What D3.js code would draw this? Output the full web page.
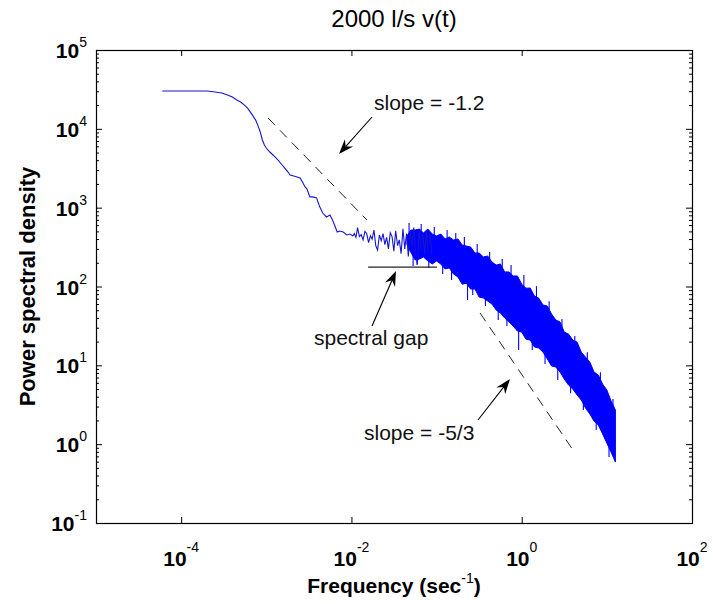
<!DOCTYPE html>
<html><head><meta charset="utf-8">
<script src="https://cdn.jsdelivr.net/npm/d3@7"></script>
<style>body{margin:0;background:#fff;} svg{display:block;font-family:"Liberation Sans",Arial,Helvetica,sans-serif;}</style>
</head><body><svg id="chart" width="713" height="604"></svg>
<script>
// ---- data ----
const freqLine = [6e-5,1e-4,1.5e-4,2e-4,2.5e-4,3e-4,3.5e-4,4e-4,4.5e-4,5e-4,5.5e-4,6e-4,6.5e-4,7e-4,7.5e-4,8e-4,8.5e-4,9e-4,9.5e-4,1e-3,
  1.1e-3,1.2e-3,1.3e-3,1.4e-3,1.5e-3,1.65e-3,1.8e-3,1.9e-3,2.1e-3,2.3e-3,2.5e-3,2.7e-3,2.85e-3,3.0e-3,3.25e-3,3.5e-3,3.9e-3,4.2e-3,4.6e-3,5.1e-3,
  5.6e-3,6.0e-3,6.4e-3,6.8e-3,7.3e-3,8.0e-3,8.8e-3,9.6e-3,1.04e-2,
  0.0108,0.0113,0.0118,0.0124,0.0130,0.0137,0.0144,0.0151,0.0159,0.0167,0.0175,0.0184,0.0193,0.0203,0.0213,0.0224,0.0235,0.0247,0.0259,0.0272,
  0.0286,0.0300,0.0315,0.0331,0.0348,0.0365,0.0383,0.0403,0.0423,0.0444,0.0466,0.0490,0.0514,0.0540,0.0567,0.0595,0.0625,0.0656,0.0689,0.0724,
  0.0760,0.0798,0.0838,0.0880];
const psdLine = [30200,30200,30200,30200,29300,28500,26900,25300,23200,21900,20100,18400,16300,14500,12900,10900,9120,7220,6240,5710,
  5080,4660,4270,3910,3580,3180,2830,2600,2520,2450,2380,2050,1830,1730,1370,1370,1330,1050,855,762,
  807,697,585,491,506,491,450,463,437,
  470,420,560,430,455,390,500,470,360,440,400,520,330,290,450,380,470,340,420,300,
  480,430,280,510,330,390,260,540,300,470,240,510,330,560,270,195,520,300,460,260,
  500,280,470,250];

const bandFreq = [0.045,0.05,0.056,0.063,0.07,0.079,0.089,0.1,0.112,0.126,0.141,0.158,0.178,0.2,0.224,0.251,0.282,0.316,0.355,0.398,
  0.447,0.501,0.562,0.631,0.708,0.794,0.891,1.0,1.12,1.26,1.41,1.58,1.78,2.0,2.24,2.51,2.82,3.16,3.55,3.98,
  4.47,5.01,5.62,6.31,7.08,7.94,8.91,10.0,11.2,12.6];
const bandHigh = [440,520,521,536,477,536,463,437,463,401,425,389,401,336,326,317,266,266,237,244,
  205,187,193,153,153,136,136,107,95.3,95.6,75.7,71.4,58.2,56.5,44.8,37.6,35.5,26.4,24.9,20.9,
  19.7,14.7,12.7,11.0,8.21,7.53,5.79,4.86,3.53,2.71];
const bandLow = [340,270,217,223,237,211,193,211,193,167,172,144,132,107,110,92.9,92.9,73.5,71.4,65.4,
  59.9,50.3,46.1,39.9,35.5,31.5,27.2,26.4,21.5,20.9,17.1,16.6,14.7,12.0,9.81,9.53,8.21,6.70,5.62,5.00,
  4.20,3.63,2.87,2.41,1.96,1.75,1.35,1.03,0.795,0.593];

// individual spikes sticking out of the dense band
const spikeFreq = [0.0475,0.066,0.094,0.133,0.168,0.212,0.30,0.42,0.59,0.75,1.06,1.49,2.1,2.97,4.2,5.9,8.4,11.8,
  0.053,0.059,0.081,0.118,0.15,0.231,0.266,0.375,0.53,0.67,0.92,1.33,1.88,2.65,3.75,5.3,7.5,10.6];
const spikeHigh = [639,621,569,521,477,425,346,274,223,187,140,101,65,38.7,23.5,14.7,8.2,3.74,
  400,420,380,320,260,200,170,120,80,65,50,35,22,14,9,5.5,3.2,1.5];
const spikeLow = [330,320,300,280,250,220,180,140,115,95,72,52,34,20,12,7.5,4.2,1.9,
  182,187,172,144,121,67.3,77.9,56.5,37.6,31.5,15.6,15.6,10.4,6.51,4.42,2.71,1.51,0.686];

const slope1Freq = [1.05e-3,1.52e-2], slope1Psd = [13700,697];
const slope2Freq = [0.324,4.0],      slope2Psd = [46.1,0.843];
const gapFreq = [0.0157,0.101],      gapPsd = [176.6,176.6];

const xTickExps = [-4,-2,0,2];
const yTickExps = [-1,0,1,2,3,4,5];

const titleText = "2000 l/s v(t)";
const xLabelText = "Frequency (sec", xLabelSup = "-1", xLabelEnd = ")";
const yLabelText = "Power spectral density";

// ---- layout ----
const W = 713, H = 604;
const m = {l:96, t:50};
const pw = 596, ph = 473;
const x = d3.scaleLog().domain([1e-5,1e2]).range([m.l, m.l+pw]);
const y = d3.scaleLog().domain([1e-1,1e5]).range([m.t+ph, m.t]);

const svg = d3.select('#chart');
svg.append('rect').attr('width',W).attr('height',H).attr('fill','#fff');
svg.append('defs').append('clipPath').attr('id','clip')
  .append('rect').attr('x',m.l).attr('y',m.t).attr('width',pw).attr('height',ph);

const g = svg.append('g').attr('clip-path','url(#clip)');

// dense band
const band = bandFreq.map((f,i)=>({f, hi:bandHigh[i], lo:bandLow[i]}));
g.append('path').datum(band)
  .attr('d', d3.area().x(d=>x(d.f)).y0(d=>y(d.lo)).y1(d=>y(d.hi)))
  .attr('fill','#0000ff').attr('stroke','#0000ff').attr('stroke-width',1);

// spectrum line
const lineData = freqLine.map((f,i)=>({f, p:psdLine[i]}));
g.append('path').datum(lineData)
  .attr('d', d3.line().x(d=>x(d.f)).y(d=>y(d.p)))
  .attr('fill','none').attr('stroke','#1515d0').attr('stroke-width',1.1);

// spikes
g.selectAll('line.spike').data(spikeFreq).enter().append('line')
  .attr('x1',d=>x(d)).attr('x2',d=>x(d))
  .attr('y1',(d,i)=>y(spikeHigh[i])).attr('y2',(d,i)=>y(spikeLow[i]))
  .attr('stroke','#0000ff').attr('stroke-width',1.1);

// slope lines
const lineGen = d3.line().x(d=>x(d[0])).y(d=>y(d[1]));
g.append('path').datum(slope1Freq.map((f,i)=>[f,slope1Psd[i]]))
  .attr('d',lineGen).attr('stroke','#222').attr('stroke-width',1).attr('stroke-dasharray','10,7').attr('fill','none');
g.append('path').datum(slope2Freq.map((f,i)=>[f,slope2Psd[i]]))
  .attr('d',lineGen).attr('stroke','#222').attr('stroke-width',1).attr('stroke-dasharray','10,7').attr('fill','none');
g.append('path').datum(gapFreq.map((f,i)=>[f,gapPsd[i]]))
  .attr('d',lineGen).attr('stroke','#222').attr('stroke-width',1.3).attr('fill','none');

// ---- axes (ticks inward, box) ----
const yMinor = [];
for (let e=-1;e<5;e++) for (let k=2;k<10;k++) yMinor.push(k*Math.pow(10,e));
const xMaj = xTickExps.map(e=>Math.pow(10,e));
const yMaj = yTickExps.map(e=>Math.pow(10,e));

function styleAxis(sel){ sel.select('.domain').remove(); sel.selectAll('line').attr('stroke','#000'); sel.selectAll('text').remove(); }
svg.append('g').attr('transform',`translate(0,${m.t+ph})`).call(d3.axisBottom(x).tickValues(xMaj).tickSize(-6)).call(styleAxis);
svg.append('g').attr('transform',`translate(0,${m.t})`).call(d3.axisTop(x).tickValues(xMaj).tickSize(-6)).call(styleAxis);
svg.append('g').attr('transform',`translate(${m.l},0)`).call(d3.axisLeft(y).tickValues(yMaj).tickSize(-6)).call(styleAxis);
svg.append('g').attr('transform',`translate(${m.l},0)`).call(d3.axisLeft(y).tickValues(yMinor).tickSize(-3)).call(styleAxis);
svg.append('g').attr('transform',`translate(${m.l+pw},0)`).call(d3.axisRight(y).tickValues(yMaj).tickSize(-6)).call(styleAxis);
svg.append('g').attr('transform',`translate(${m.l+pw},0)`).call(d3.axisRight(y).tickValues(yMinor).tickSize(-3)).call(styleAxis);

svg.append('rect').attr('x',m.l+0.5).attr('y',m.t+0.5).attr('width',pw).attr('height',ph)
  .attr('fill','none').attr('stroke','#000').attr('stroke-width',1.2);

// tick labels
const xl = svg.append('g');
xTickExps.forEach(e=>{
  const t = xl.append('text').attr('x',x(Math.pow(10,e))).attr('y',m.t+ph+43)
    .attr('text-anchor','middle').attr('font-size',21).attr('font-weight','bold').attr('fill','#000');
  t.append('tspan').text('10');
  t.append('tspan').attr('dy',-14).attr('font-size',14).attr('font-weight','normal').text(e);
});
yTickExps.forEach(e=>{
  const t = xl.append('text').attr('x',m.l-9).attr('y',y(Math.pow(10,e))+8)
    .attr('text-anchor','end').attr('font-size',21).attr('font-weight','bold').attr('fill','#000');
  t.append('tspan').text('10');
  t.append('tspan').attr('dy',-11).attr('font-size',14).attr('font-weight','normal').text(e);
});

// title & axis labels
svg.append('text').attr('x',m.l+pw/2).attr('y',27).attr('text-anchor','middle')
  .attr('font-size',24).text(titleText);
const xt = svg.append('text').attr('x',m.l+pw/2).attr('y',593).attr('text-anchor','middle')
  .attr('font-size',21).attr('font-weight','bold');
xt.append('tspan').text(xLabelText);
xt.append('tspan').attr('dy',-10).attr('font-size',14).attr('font-weight','normal').text(xLabelSup);
xt.append('tspan').attr('dy',10).text(xLabelEnd);
svg.append('text').attr('transform',`translate(35,${m.t+ph/2}) rotate(-90)`).attr('text-anchor','middle')
  .attr('font-size',22).attr('font-weight','bold').text(yLabelText);

// annotations
function arrow(x1,y1,x2,y2){
  const dx=x2-x1, dy=y2-y1, L=Math.hypot(dx,dy), ux=dx/L, uy=dy/L, px=-uy, py=ux;
  const hl=15, hw=5.5, nl=10;
  svg.append('line').attr('x1',x1).attr('y1',y1).attr('x2',x2-ux*nl).attr('y2',y2-uy*nl)
    .attr('stroke','#000').attr('stroke-width',1.1);
  const pts=[[x2,y2],[x2-ux*hl+px*hw,y2-uy*hl+py*hw],[x2-ux*nl,y2-uy*nl],[x2-ux*hl-px*hw,y2-uy*hl-py*hw]];
  svg.append('path').attr('d','M'+pts.map(p=>p.join(',')).join('L')+'Z').attr('fill','#000');
}
const ann = svg.append('g').attr('font-size',21).attr('fill','#111');
ann.append('text').attr('x',374).attr('y',110).text('slope = -1.2');
arrow(372,117,339,154);
ann.append('text').attr('x',314).attr('y',345).text('spectral gap');
arrow(372,326,396,271);
ann.append('text').attr('x',364).attr('y',440).text('slope = -5/3');
arrow(478,420,510,379);
</script></body></html>
